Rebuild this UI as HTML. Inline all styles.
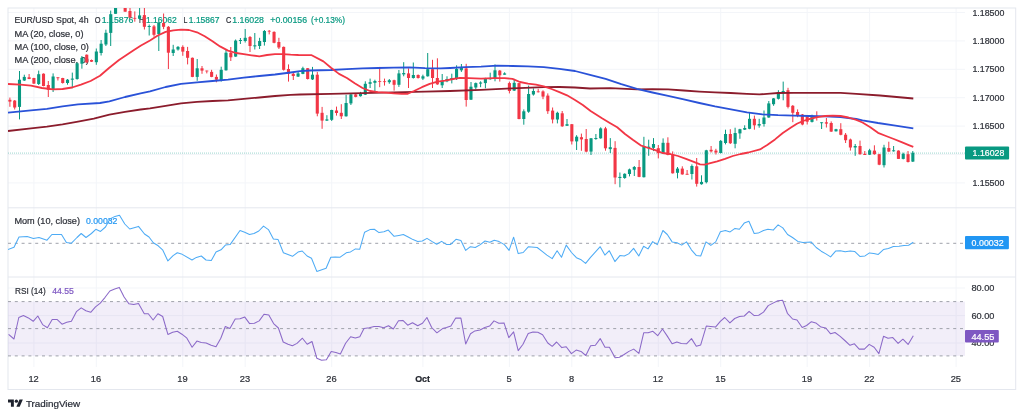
<!DOCTYPE html>
<html lang="en"><head><meta charset="utf-8"><title>EUR/USD Spot, 4h</title>
<style>html,body{margin:0;padding:0;background:#fff;}body{width:1024px;height:417px;overflow:hidden;}svg{display:block;filter:blur(0.3px);}</style>
</head><body>
<svg width="1024" height="417" viewBox="0 0 1024 417" font-family="'Liberation Sans', Arial, sans-serif">
<defs><clipPath id="cm"><rect x="8" y="8" width="957" height="200"/></clipPath><clipPath id="c2"><rect x="8" y="208" width="957" height="69"/></clipPath><clipPath id="c3"><rect x="8" y="277" width="957" height="90"/></clipPath></defs>
<rect x="0" y="0" width="1024" height="417" fill="#ffffff"/>
<g stroke="#f3f5f9" stroke-width="1" fill="none"><line x1="33.9" y1="8" x2="33.9" y2="367"/><line x1="96.3" y1="8" x2="96.3" y2="367"/><line x1="182.8" y1="8" x2="182.8" y2="367"/><line x1="245.2" y1="8" x2="245.2" y2="367"/><line x1="331.7" y1="8" x2="331.7" y2="367"/><line x1="422.9" y1="8" x2="422.9" y2="367"/><line x1="509.4" y1="8" x2="509.4" y2="367"/><line x1="571.8" y1="8" x2="571.8" y2="367"/><line x1="658.3" y1="8" x2="658.3" y2="367"/><line x1="720.7" y1="8" x2="720.7" y2="367"/><line x1="807.2" y1="8" x2="807.2" y2="367"/><line x1="869.6" y1="8" x2="869.6" y2="367"/><line x1="956.1" y1="8" x2="956.1" y2="367"/><line x1="8" y1="12.5" x2="965" y2="12.5"/><line x1="8" y1="40.9" x2="965" y2="40.9"/><line x1="8" y1="69.3" x2="965" y2="69.3"/><line x1="8" y1="97.7" x2="965" y2="97.7"/><line x1="8" y1="126.1" x2="965" y2="126.1"/><line x1="8" y1="154.5" x2="965" y2="154.5"/><line x1="8" y1="182.9" x2="965" y2="182.9"/><line x1="8" y1="288" x2="965" y2="288"/><line x1="8" y1="315.6" x2="965" y2="315.6"/><line x1="8" y1="343" x2="965" y2="343"/></g>
<g stroke="#e4e7ee" stroke-width="1" fill="none"><rect x="8" y="8" width="1007.7" height="381.5"/><line x1="8" y1="207.8" x2="1015.7" y2="207.8"/><line x1="8" y1="277" x2="1015.7" y2="277"/></g>
<rect x="8" y="301.6" width="957" height="54.3" fill="#7e57c2" fill-opacity="0.1"/>
<g stroke="#9fa2aa" stroke-width="1" stroke-dasharray="3 3.8" fill="none"><line x1="8" y1="301.6" x2="965" y2="301.6"/><line x1="8" y1="328.6" x2="965" y2="328.6"/><line x1="8" y1="355.9" x2="965" y2="355.9"/><line x1="8" y1="243.3" x2="965" y2="243.3"/></g>
<line x1="8" y1="153.1" x2="965" y2="153.1" stroke="#089981" stroke-opacity="0.4" stroke-width="1" stroke-dasharray="1 1"/>
<text x="14.5" y="23.3" font-size="9.5" fill="#2e3139" stroke="#2e3139" stroke-width="0.22" text-anchor="start" textLength="74.0" lengthAdjust="spacingAndGlyphs">EUR/USD Spot, 4h</text>
<text x="94.7" y="23.3" font-size="9.5" fill="#2e3139" stroke="#2e3139" stroke-width="0.22" text-anchor="start" textLength="5.8" lengthAdjust="spacingAndGlyphs">O</text>
<text x="101.7" y="23.3" font-size="9.5" fill="#089981" stroke="#089981" stroke-width="0.22" text-anchor="start" textLength="31.7" lengthAdjust="spacingAndGlyphs">1.15876</text>
<text x="139.0" y="23.3" font-size="9.5" fill="#2e3139" stroke="#2e3139" stroke-width="0.22" text-anchor="start" textLength="5.0" lengthAdjust="spacingAndGlyphs">H</text>
<text x="145.9" y="23.3" font-size="9.5" fill="#089981" stroke="#089981" stroke-width="0.22" text-anchor="start" textLength="31.0" lengthAdjust="spacingAndGlyphs">1.16062</text>
<text x="183.6" y="23.3" font-size="9.5" fill="#2e3139" stroke="#2e3139" stroke-width="0.22" text-anchor="start" textLength="3.9" lengthAdjust="spacingAndGlyphs">L</text>
<text x="188.8" y="23.3" font-size="9.5" fill="#089981" stroke="#089981" stroke-width="0.22" text-anchor="start" textLength="30.7" lengthAdjust="spacingAndGlyphs">1.15867</text>
<text x="226.0" y="23.3" font-size="9.5" fill="#2e3139" stroke="#2e3139" stroke-width="0.22" text-anchor="start" textLength="5.3" lengthAdjust="spacingAndGlyphs">C</text>
<text x="232.3" y="23.3" font-size="9.5" fill="#089981" stroke="#089981" stroke-width="0.22" text-anchor="start" textLength="31.7" lengthAdjust="spacingAndGlyphs">1.16028</text>
<text x="270.3" y="23.3" font-size="9.5" fill="#089981" stroke="#089981" stroke-width="0.22" text-anchor="start" textLength="36.8" lengthAdjust="spacingAndGlyphs">+0.00156</text>
<text x="311.0" y="23.3" font-size="9.5" fill="#089981" stroke="#089981" stroke-width="0.22" text-anchor="start" textLength="34.0" lengthAdjust="spacingAndGlyphs">(+0.13%)</text>
<text x="14.5" y="36.5" font-size="9.5" fill="#2e3139" stroke="#2e3139" stroke-width="0.22" text-anchor="start" textLength="69.0" lengthAdjust="spacingAndGlyphs">MA (20, close, 0)</text>
<text x="14.5" y="49.6" font-size="9.5" fill="#2e3139" stroke="#2e3139" stroke-width="0.22" text-anchor="start" textLength="74.4" lengthAdjust="spacingAndGlyphs">MA (100, close, 0)</text>
<text x="14.5" y="62.6" font-size="9.5" fill="#2e3139" stroke="#2e3139" stroke-width="0.22" text-anchor="start" textLength="74.4" lengthAdjust="spacingAndGlyphs">MA (200, close, 0)</text>
<text x="14.4" y="223.5" font-size="9.5" fill="#2e3139" stroke="#2e3139" stroke-width="0.22" text-anchor="start" textLength="65.6" lengthAdjust="spacingAndGlyphs">Mom (10, close)</text>
<text x="86.0" y="223.5" font-size="9.5" fill="#2196f3" stroke="#2196f3" stroke-width="0.22" text-anchor="start" textLength="31.4" lengthAdjust="spacingAndGlyphs">0.00032</text>
<text x="15.0" y="293.9" font-size="9.5" fill="#2e3139" stroke="#2e3139" stroke-width="0.22" text-anchor="start" textLength="30.7" lengthAdjust="spacingAndGlyphs">RSI (14)</text>
<text x="52.2" y="293.9" font-size="9.5" fill="#7e57c2" stroke="#7e57c2" stroke-width="0.22" text-anchor="start" textLength="21.7" lengthAdjust="spacingAndGlyphs">44.55</text>
<g clip-path="url(#cm)">
<g stroke="#089981" stroke-width="1" fill="#089981"><line x1="19.5" y1="71.0" x2="19.5" y2="119.4"/><line x1="24.3" y1="74.7" x2="24.3" y2="81.0"/><line x1="38.7" y1="70.6" x2="38.7" y2="85.0"/><line x1="53.1" y1="73.4" x2="53.1" y2="92.0"/><line x1="67.5" y1="79.0" x2="67.5" y2="84.7"/><line x1="72.3" y1="72.6" x2="72.3" y2="88.3"/><line x1="77.1" y1="62.5" x2="77.1" y2="79.7"/><line x1="81.9" y1="56.0" x2="81.9" y2="68.7"/><line x1="96.3" y1="48.5" x2="96.3" y2="64.8"/><line x1="101.1" y1="40.0" x2="101.1" y2="55.5"/><line x1="105.9" y1="29.7" x2="105.9" y2="46.0"/><line x1="110.7" y1="10.6" x2="110.7" y2="46.0"/><line x1="115.6" y1="4.0" x2="115.6" y2="13.8"/><line x1="139.6" y1="7.0" x2="139.6" y2="19.5"/><line x1="149.2" y1="24.5" x2="149.2" y2="35.5"/><line x1="158.8" y1="22.2" x2="158.8" y2="51.0"/><line x1="173.2" y1="44.8" x2="173.2" y2="56.0"/><line x1="178.0" y1="46.0" x2="178.0" y2="50.6"/><line x1="197.2" y1="59.0" x2="197.2" y2="80.8"/><line x1="221.2" y1="66.7" x2="221.2" y2="81.6"/><line x1="226.0" y1="49.5" x2="226.0" y2="70.6"/><line x1="235.6" y1="39.5" x2="235.6" y2="56.8"/><line x1="240.4" y1="38.0" x2="240.4" y2="44.0"/><line x1="245.2" y1="29.0" x2="245.2" y2="42.5"/><line x1="254.8" y1="33.0" x2="254.8" y2="49.5"/><line x1="259.6" y1="37.8" x2="259.6" y2="49.0"/><line x1="264.4" y1="30.0" x2="264.4" y2="45.6"/><line x1="298.1" y1="71.4" x2="298.1" y2="77.0"/><line x1="302.9" y1="66.7" x2="302.9" y2="74.2"/><line x1="312.5" y1="66.9" x2="312.5" y2="80.0"/><line x1="326.9" y1="115.2" x2="326.9" y2="121.0"/><line x1="331.7" y1="109.7" x2="331.7" y2="121.0"/><line x1="346.1" y1="94.8" x2="346.1" y2="116.6"/><line x1="350.9" y1="94.0" x2="350.9" y2="105.0"/><line x1="360.5" y1="91.9" x2="360.5" y2="96.6"/><line x1="365.3" y1="81.3" x2="365.3" y2="95.0"/><line x1="370.1" y1="78.6" x2="370.1" y2="88.0"/><line x1="374.9" y1="79.7" x2="374.9" y2="91.9"/><line x1="389.3" y1="79.0" x2="389.3" y2="83.8"/><line x1="398.9" y1="70.0" x2="398.9" y2="86.9"/><line x1="403.7" y1="62.2" x2="403.7" y2="76.3"/><line x1="413.3" y1="62.5" x2="413.3" y2="78.6"/><line x1="422.9" y1="74.7" x2="422.9" y2="80.0"/><line x1="427.7" y1="53.0" x2="427.7" y2="76.6"/><line x1="442.2" y1="74.0" x2="442.2" y2="88.0"/><line x1="447.0" y1="76.3" x2="447.0" y2="82.2"/><line x1="451.8" y1="73.7" x2="451.8" y2="83.4"/><line x1="456.6" y1="65.3" x2="456.6" y2="80.0"/><line x1="461.4" y1="64.0" x2="461.4" y2="71.9"/><line x1="471.0" y1="82.0" x2="471.0" y2="100.0"/><line x1="475.8" y1="82.5" x2="475.8" y2="89.4"/><line x1="480.6" y1="81.3" x2="480.6" y2="87.2"/><line x1="485.4" y1="77.8" x2="485.4" y2="88.3"/><line x1="490.2" y1="72.7" x2="490.2" y2="79.7"/><line x1="495.0" y1="64.4" x2="495.0" y2="81.3"/><line x1="504.6" y1="72.3" x2="504.6" y2="74.7"/><line x1="514.2" y1="78.9" x2="514.2" y2="91.0"/><line x1="523.8" y1="109.4" x2="523.8" y2="124.7"/><line x1="528.6" y1="85.6" x2="528.6" y2="112.8"/><line x1="533.4" y1="88.3" x2="533.4" y2="95.6"/><line x1="557.4" y1="111.7" x2="557.4" y2="123.4"/><line x1="567.0" y1="119.0" x2="567.0" y2="125.8"/><line x1="576.6" y1="135.2" x2="576.6" y2="150.0"/><line x1="591.0" y1="138.0" x2="591.0" y2="155.0"/><line x1="595.9" y1="134.0" x2="595.9" y2="139.8"/><line x1="600.7" y1="127.3" x2="600.7" y2="138.8"/><line x1="610.3" y1="138.1" x2="610.3" y2="153.0"/><line x1="619.9" y1="172.5" x2="619.9" y2="187.3"/><line x1="624.7" y1="173.3" x2="624.7" y2="178.8"/><line x1="629.5" y1="168.6" x2="629.5" y2="176.4"/><line x1="634.3" y1="166.0" x2="634.3" y2="176.0"/><line x1="643.9" y1="136.8" x2="643.9" y2="177.5"/><line x1="648.7" y1="139.7" x2="648.7" y2="155.8"/><line x1="653.5" y1="138.1" x2="653.5" y2="151.1"/><line x1="663.1" y1="138.4" x2="663.1" y2="154.0"/><line x1="677.5" y1="167.0" x2="677.5" y2="178.4"/><line x1="691.9" y1="164.4" x2="691.9" y2="179.5"/><line x1="701.5" y1="175.3" x2="701.5" y2="184.7"/><line x1="706.3" y1="149.8" x2="706.3" y2="183.4"/><line x1="720.7" y1="140.0" x2="720.7" y2="153.4"/><line x1="725.5" y1="129.7" x2="725.5" y2="144.4"/><line x1="735.1" y1="127.7" x2="735.1" y2="148.3"/><line x1="739.9" y1="128.8" x2="739.9" y2="138.8"/><line x1="744.7" y1="125.3" x2="744.7" y2="130.0"/><line x1="749.5" y1="112.0" x2="749.5" y2="129.2"/><line x1="759.2" y1="118.8" x2="759.2" y2="127.7"/><line x1="764.0" y1="110.5" x2="764.0" y2="126.6"/><line x1="768.8" y1="101.0" x2="768.8" y2="117.8"/><line x1="773.6" y1="98.0" x2="773.6" y2="105.8"/><line x1="778.4" y1="90.2" x2="778.4" y2="99.5"/><line x1="783.2" y1="81.6" x2="783.2" y2="100.3"/><line x1="812.0" y1="114.7" x2="812.0" y2="122.5"/><line x1="821.6" y1="122.3" x2="821.6" y2="129.0"/><line x1="836.0" y1="128.8" x2="836.0" y2="131.5"/><line x1="855.2" y1="144.0" x2="855.2" y2="155.8"/><line x1="869.6" y1="148.8" x2="869.6" y2="155.0"/><line x1="884.0" y1="144.8" x2="884.0" y2="167.5"/><line x1="893.6" y1="146.0" x2="893.6" y2="151.6"/><line x1="903.2" y1="152.7" x2="903.2" y2="159.4"/><line x1="912.8" y1="151.0" x2="912.8" y2="162.0"/><g stroke="none"><rect x="17.94" y="79.7" width="3.1" height="27.2"/><rect x="22.74" y="76.9" width="3.1" height="3.6"/><rect x="37.15" y="74.2" width="3.1" height="9.8"/><rect x="51.56" y="76.5" width="3.1" height="13.3"/><rect x="65.97" y="79.7" width="3.1" height="3.3"/><rect x="70.77" y="78.6" width="3.1" height="1.1"/><rect x="75.58" y="63.3" width="3.1" height="15.7"/><rect x="80.38" y="57.8" width="3.1" height="5.9"/><rect x="94.79" y="51.5" width="3.1" height="10.7"/><rect x="99.59" y="43.7" width="3.1" height="9.3"/><rect x="104.39" y="32.8" width="3.1" height="11.7"/><rect x="109.20" y="14.2" width="3.1" height="18.7"/><rect x="114.00" y="6.0" width="3.1" height="7.8"/><rect x="138.02" y="15.4" width="3.1" height="3.4"/><rect x="147.62" y="26.0" width="3.1" height="1.0"/><rect x="157.23" y="22.5" width="3.1" height="11.5"/><rect x="171.64" y="49.5" width="3.1" height="3.5"/><rect x="176.44" y="46.9" width="3.1" height="2.6"/><rect x="195.65" y="68.3" width="3.1" height="8.6"/><rect x="219.67" y="69.8" width="3.1" height="11.0"/><rect x="224.47" y="52.7" width="3.1" height="17.6"/><rect x="234.08" y="40.6" width="3.1" height="16.0"/><rect x="238.88" y="40.0" width="3.1" height="1.0"/><rect x="243.68" y="37.8" width="3.1" height="3.2"/><rect x="253.29" y="45.3" width="3.1" height="1.1"/><rect x="258.09" y="41.0" width="3.1" height="5.0"/><rect x="262.89" y="31.0" width="3.1" height="11.0"/><rect x="296.51" y="73.4" width="3.1" height="3.2"/><rect x="301.32" y="68.2" width="3.1" height="5.7"/><rect x="310.92" y="74.7" width="3.1" height="4.7"/><rect x="325.33" y="119.4" width="3.1" height="1.2"/><rect x="330.14" y="110.0" width="3.1" height="9.8"/><rect x="344.54" y="103.0" width="3.1" height="13.3"/><rect x="349.35" y="94.4" width="3.1" height="9.0"/><rect x="358.95" y="93.8" width="3.1" height="2.4"/><rect x="363.76" y="83.8" width="3.1" height="10.9"/><rect x="368.56" y="82.2" width="3.1" height="1.6"/><rect x="373.36" y="81.0" width="3.1" height="1.8"/><rect x="387.77" y="80.2" width="3.1" height="2.0"/><rect x="397.38" y="73.4" width="3.1" height="11.4"/><rect x="402.18" y="73.0" width="3.1" height="1.4"/><rect x="411.79" y="75.0" width="3.1" height="3.0"/><rect x="421.39" y="76.3" width="3.1" height="2.3"/><rect x="426.20" y="69.2" width="3.1" height="7.1"/><rect x="440.60" y="81.0" width="3.1" height="4.3"/><rect x="445.41" y="79.0" width="3.1" height="2.3"/><rect x="450.21" y="78.0" width="3.1" height="1.7"/><rect x="455.01" y="69.0" width="3.1" height="9.8"/><rect x="459.82" y="68.0" width="3.1" height="2.3"/><rect x="469.42" y="86.7" width="3.1" height="13.0"/><rect x="474.23" y="83.1" width="3.1" height="4.4"/><rect x="479.03" y="82.5" width="3.1" height="1.1"/><rect x="483.83" y="78.9" width="3.1" height="4.2"/><rect x="488.63" y="78.1" width="3.1" height="1.1"/><rect x="493.44" y="70.3" width="3.1" height="8.6"/><rect x="503.04" y="73.4" width="3.1" height="1.3"/><rect x="512.65" y="82.8" width="3.1" height="7.8"/><rect x="522.26" y="111.3" width="3.1" height="7.7"/><rect x="527.06" y="94.0" width="3.1" height="17.7"/><rect x="531.86" y="91.0" width="3.1" height="3.5"/><rect x="555.88" y="112.8" width="3.1" height="6.7"/><rect x="565.48" y="124.2" width="3.1" height="1.6"/><rect x="575.09" y="136.7" width="3.1" height="4.7"/><rect x="589.50" y="138.3" width="3.1" height="13.3"/><rect x="594.30" y="138.0" width="3.1" height="1.0"/><rect x="599.10" y="128.4" width="3.1" height="9.9"/><rect x="608.71" y="147.2" width="3.1" height="1.9"/><rect x="618.32" y="176.9" width="3.1" height="1.1"/><rect x="623.12" y="173.8" width="3.1" height="4.2"/><rect x="627.92" y="169.4" width="3.1" height="4.6"/><rect x="632.73" y="167.0" width="3.1" height="2.7"/><rect x="642.33" y="146.2" width="3.1" height="31.0"/><rect x="647.13" y="146.7" width="3.1" height="1.5"/><rect x="651.94" y="144.0" width="3.1" height="3.8"/><rect x="661.54" y="142.8" width="3.1" height="11.0"/><rect x="675.95" y="168.6" width="3.1" height="4.2"/><rect x="690.36" y="166.0" width="3.1" height="8.0"/><rect x="699.97" y="181.9" width="3.1" height="2.3"/><rect x="704.77" y="150.3" width="3.1" height="31.9"/><rect x="719.18" y="140.9" width="3.1" height="12.1"/><rect x="723.98" y="134.0" width="3.1" height="9.0"/><rect x="733.59" y="133.0" width="3.1" height="10.8"/><rect x="738.39" y="129.2" width="3.1" height="4.2"/><rect x="743.19" y="128.0" width="3.1" height="1.7"/><rect x="748.00" y="118.8" width="3.1" height="10.0"/><rect x="757.60" y="124.0" width="3.1" height="1.6"/><rect x="762.41" y="117.5" width="3.1" height="6.5"/><rect x="767.21" y="103.4" width="3.1" height="14.1"/><rect x="772.01" y="98.4" width="3.1" height="5.8"/><rect x="776.82" y="92.2" width="3.1" height="6.6"/><rect x="781.62" y="91.0" width="3.1" height="1.5"/><rect x="810.44" y="115.8" width="3.1" height="6.1"/><rect x="820.04" y="122.3" width="3.1" height="0.9"/><rect x="834.45" y="129.2" width="3.1" height="2.1"/><rect x="853.66" y="146.0" width="3.1" height="1.5"/><rect x="868.07" y="150.3" width="3.1" height="4.4"/><rect x="882.48" y="147.5" width="3.1" height="17.7"/><rect x="892.09" y="150.3" width="3.1" height="1.0"/><rect x="901.69" y="153.8" width="3.1" height="5.1"/><rect x="911.30" y="152.7" width="3.1" height="8.9"/></g></g>
<g stroke="#f23645" stroke-width="1" fill="#f23645"><line x1="9.9" y1="97.6" x2="9.9" y2="106.8"/><line x1="14.7" y1="100.0" x2="14.7" y2="109.5"/><line x1="29.1" y1="74.0" x2="29.1" y2="79.2"/><line x1="33.9" y1="77.8" x2="33.9" y2="84.0"/><line x1="43.5" y1="73.4" x2="43.5" y2="86.3"/><line x1="48.3" y1="81.0" x2="48.3" y2="97.0"/><line x1="57.9" y1="77.3" x2="57.9" y2="80.5"/><line x1="62.7" y1="77.8" x2="62.7" y2="83.6"/><line x1="86.7" y1="54.5" x2="86.7" y2="62.8"/><line x1="91.5" y1="59.5" x2="91.5" y2="62.0"/><line x1="125.2" y1="3.0" x2="125.2" y2="11.7"/><line x1="130.0" y1="7.0" x2="130.0" y2="18.5"/><line x1="134.8" y1="11.4" x2="134.8" y2="21.7"/><line x1="144.4" y1="7.0" x2="144.4" y2="29.5"/><line x1="154.0" y1="25.0" x2="154.0" y2="36.7"/><line x1="163.6" y1="13.5" x2="163.6" y2="29.2"/><line x1="168.4" y1="26.0" x2="168.4" y2="69.0"/><line x1="182.8" y1="45.3" x2="182.8" y2="55.8"/><line x1="187.6" y1="46.9" x2="187.6" y2="64.4"/><line x1="192.4" y1="57.5" x2="192.4" y2="77.2"/><line x1="202.0" y1="66.0" x2="202.0" y2="73.8"/><line x1="206.8" y1="70.6" x2="206.8" y2="73.4"/><line x1="211.6" y1="69.8" x2="211.6" y2="77.2"/><line x1="216.4" y1="74.5" x2="216.4" y2="82.3"/><line x1="230.8" y1="47.0" x2="230.8" y2="61.0"/><line x1="250.0" y1="36.0" x2="250.0" y2="52.0"/><line x1="269.2" y1="30.0" x2="269.2" y2="34.4"/><line x1="274.1" y1="31.3" x2="274.1" y2="43.3"/><line x1="278.9" y1="37.8" x2="278.9" y2="49.0"/><line x1="283.7" y1="46.5" x2="283.7" y2="70.6"/><line x1="288.5" y1="64.4" x2="288.5" y2="81.6"/><line x1="293.3" y1="73.0" x2="293.3" y2="80.0"/><line x1="307.7" y1="68.0" x2="307.7" y2="79.5"/><line x1="317.3" y1="71.9" x2="317.3" y2="116.3"/><line x1="322.1" y1="106.9" x2="322.1" y2="128.8"/><line x1="336.5" y1="106.6" x2="336.5" y2="115.6"/><line x1="341.3" y1="104.2" x2="341.3" y2="119.0"/><line x1="355.7" y1="94.0" x2="355.7" y2="97.3"/><line x1="379.7" y1="66.9" x2="379.7" y2="87.2"/><line x1="384.5" y1="78.6" x2="384.5" y2="85.6"/><line x1="394.1" y1="79.7" x2="394.1" y2="90.6"/><line x1="408.5" y1="68.4" x2="408.5" y2="88.0"/><line x1="418.1" y1="74.4" x2="418.1" y2="78.6"/><line x1="432.5" y1="59.8" x2="432.5" y2="88.0"/><line x1="437.4" y1="58.3" x2="437.4" y2="84.8"/><line x1="466.2" y1="63.8" x2="466.2" y2="106.6"/><line x1="499.8" y1="70.0" x2="499.8" y2="81.6"/><line x1="509.4" y1="81.6" x2="509.4" y2="93.4"/><line x1="519.0" y1="82.8" x2="519.0" y2="119.3"/><line x1="538.2" y1="88.8" x2="538.2" y2="92.5"/><line x1="543.0" y1="90.3" x2="543.0" y2="99.2"/><line x1="547.8" y1="93.4" x2="547.8" y2="113.9"/><line x1="552.6" y1="107.5" x2="552.6" y2="123.4"/><line x1="562.2" y1="111.0" x2="562.2" y2="126.9"/><line x1="571.8" y1="124.0" x2="571.8" y2="144.5"/><line x1="581.4" y1="133.6" x2="581.4" y2="150.8"/><line x1="586.2" y1="129.0" x2="586.2" y2="152.3"/><line x1="605.5" y1="126.9" x2="605.5" y2="150.7"/><line x1="615.1" y1="141.2" x2="615.1" y2="184.2"/><line x1="639.1" y1="160.0" x2="639.1" y2="177.2"/><line x1="658.3" y1="145.0" x2="658.3" y2="158.4"/><line x1="667.9" y1="137.3" x2="667.9" y2="155.3"/><line x1="672.7" y1="151.4" x2="672.7" y2="173.6"/><line x1="682.3" y1="166.3" x2="682.3" y2="174.7"/><line x1="687.1" y1="170.0" x2="687.1" y2="174.7"/><line x1="696.7" y1="158.0" x2="696.7" y2="186.6"/><line x1="711.1" y1="146.0" x2="711.1" y2="152.5"/><line x1="715.9" y1="148.8" x2="715.9" y2="154.5"/><line x1="730.3" y1="129.2" x2="730.3" y2="144.0"/><line x1="754.4" y1="115.6" x2="754.4" y2="129.7"/><line x1="788.0" y1="87.8" x2="788.0" y2="108.4"/><line x1="792.8" y1="105.0" x2="792.8" y2="122.2"/><line x1="797.6" y1="109.4" x2="797.6" y2="117.2"/><line x1="802.4" y1="114.0" x2="802.4" y2="125.3"/><line x1="807.2" y1="115.6" x2="807.2" y2="124.5"/><line x1="816.8" y1="111.3" x2="816.8" y2="120.6"/><line x1="826.4" y1="118.0" x2="826.4" y2="127.5"/><line x1="831.2" y1="121.4" x2="831.2" y2="131.9"/><line x1="840.8" y1="123.2" x2="840.8" y2="135.3"/><line x1="845.6" y1="133.0" x2="845.6" y2="143.0"/><line x1="850.4" y1="138.6" x2="850.4" y2="150.6"/><line x1="860.0" y1="140.6" x2="860.0" y2="154.7"/><line x1="864.8" y1="151.0" x2="864.8" y2="155.0"/><line x1="874.4" y1="145.3" x2="874.4" y2="154.7"/><line x1="879.2" y1="153.8" x2="879.2" y2="165.2"/><line x1="888.8" y1="141.7" x2="888.8" y2="151.8"/><line x1="898.4" y1="150.3" x2="898.4" y2="159.0"/><line x1="908.0" y1="151.0" x2="908.0" y2="162.5"/><g stroke="none"><rect x="8.33" y="99.8" width="3.1" height="1.8"/><rect x="13.14" y="100.6" width="3.1" height="6.9"/><rect x="27.55" y="77.3" width="3.1" height="1.7"/><rect x="32.35" y="78.0" width="3.1" height="5.6"/><rect x="41.96" y="73.7" width="3.1" height="12.3"/><rect x="46.76" y="85.0" width="3.1" height="4.8"/><rect x="56.37" y="77.3" width="3.1" height="0.9"/><rect x="61.17" y="78.0" width="3.1" height="5.0"/><rect x="85.18" y="54.7" width="3.1" height="7.8"/><rect x="89.99" y="60.0" width="3.1" height="1.7"/><rect x="123.61" y="5.0" width="3.1" height="6.7"/><rect x="128.41" y="11.0" width="3.1" height="6.5"/><rect x="133.21" y="17.9" width="3.1" height="0.8"/><rect x="142.82" y="15.1" width="3.1" height="11.7"/><rect x="152.42" y="26.4" width="3.1" height="8.4"/><rect x="162.03" y="23.0" width="3.1" height="3.8"/><rect x="166.83" y="26.8" width="3.1" height="25.9"/><rect x="181.24" y="46.9" width="3.1" height="4.7"/><rect x="186.05" y="51.0" width="3.1" height="6.8"/><rect x="190.85" y="57.8" width="3.1" height="19.1"/><rect x="200.45" y="68.3" width="3.1" height="2.3"/><rect x="205.26" y="70.6" width="3.1" height="0.8"/><rect x="210.06" y="71.9" width="3.1" height="5.0"/><rect x="214.86" y="76.9" width="3.1" height="2.8"/><rect x="229.27" y="52.7" width="3.1" height="4.6"/><rect x="248.48" y="37.0" width="3.1" height="9.0"/><rect x="267.70" y="30.8" width="3.1" height="0.8"/><rect x="272.50" y="31.9" width="3.1" height="10.9"/><rect x="277.30" y="42.0" width="3.1" height="5.5"/><rect x="282.11" y="46.9" width="3.1" height="22.9"/><rect x="286.91" y="69.0" width="3.1" height="4.8"/><rect x="291.71" y="73.8" width="3.1" height="2.2"/><rect x="306.12" y="68.2" width="3.1" height="10.8"/><rect x="315.73" y="74.7" width="3.1" height="38.9"/><rect x="320.53" y="112.8" width="3.1" height="7.8"/><rect x="334.94" y="110.5" width="3.1" height="2.5"/><rect x="339.74" y="112.8" width="3.1" height="3.5"/><rect x="354.15" y="94.4" width="3.1" height="2.5"/><rect x="378.17" y="81.0" width="3.1" height="0.8"/><rect x="382.97" y="81.3" width="3.1" height="0.8"/><rect x="392.57" y="80.2" width="3.1" height="4.6"/><rect x="406.98" y="73.4" width="3.1" height="4.6"/><rect x="416.59" y="75.0" width="3.1" height="3.0"/><rect x="431.00" y="69.2" width="3.1" height="8.8"/><rect x="435.80" y="78.0" width="3.1" height="6.4"/><rect x="464.62" y="68.4" width="3.1" height="31.6"/><rect x="498.24" y="70.6" width="3.1" height="4.7"/><rect x="507.85" y="83.1" width="3.1" height="7.9"/><rect x="517.45" y="83.1" width="3.1" height="35.9"/><rect x="536.67" y="91.4" width="3.1" height="0.8"/><rect x="541.47" y="91.4" width="3.1" height="5.2"/><rect x="546.27" y="95.6" width="3.1" height="15.6"/><rect x="551.07" y="110.6" width="3.1" height="8.9"/><rect x="560.68" y="113.3" width="3.1" height="13.0"/><rect x="570.29" y="124.2" width="3.1" height="17.2"/><rect x="579.89" y="137.2" width="3.1" height="2.2"/><rect x="584.70" y="139.0" width="3.1" height="12.6"/><rect x="603.91" y="128.4" width="3.1" height="19.9"/><rect x="613.51" y="147.9" width="3.1" height="29.6"/><rect x="637.53" y="167.0" width="3.1" height="9.9"/><rect x="656.74" y="148.2" width="3.1" height="5.0"/><rect x="666.35" y="142.8" width="3.1" height="12.2"/><rect x="671.15" y="154.5" width="3.1" height="18.8"/><rect x="680.75" y="168.6" width="3.1" height="5.8"/><rect x="685.56" y="173.8" width="3.1" height="0.9"/><rect x="695.16" y="166.3" width="3.1" height="17.5"/><rect x="709.57" y="149.8" width="3.1" height="1.6"/><rect x="714.38" y="150.6" width="3.1" height="1.9"/><rect x="728.78" y="134.0" width="3.1" height="9.2"/><rect x="752.80" y="118.8" width="3.1" height="6.5"/><rect x="786.42" y="90.2" width="3.1" height="16.7"/><rect x="791.22" y="105.8" width="3.1" height="7.0"/><rect x="796.03" y="112.0" width="3.1" height="3.2"/><rect x="800.83" y="114.5" width="3.1" height="10.0"/><rect x="805.63" y="116.5" width="3.1" height="5.2"/><rect x="815.24" y="116.3" width="3.1" height="1.4"/><rect x="824.85" y="122.3" width="3.1" height="1.3"/><rect x="829.65" y="123.0" width="3.1" height="8.6"/><rect x="839.25" y="129.2" width="3.1" height="5.6"/><rect x="844.06" y="134.7" width="3.1" height="5.5"/><rect x="848.86" y="139.5" width="3.1" height="8.0"/><rect x="858.47" y="146.0" width="3.1" height="8.2"/><rect x="863.27" y="153.8" width="3.1" height="1.2"/><rect x="872.88" y="150.6" width="3.1" height="3.6"/><rect x="877.68" y="154.2" width="3.1" height="10.5"/><rect x="887.28" y="148.0" width="3.1" height="3.6"/><rect x="896.89" y="150.6" width="3.1" height="8.3"/><rect x="906.50" y="154.2" width="3.1" height="7.8"/></g></g>
<polyline points="8.0,131.0 31.0,128.3 46.9,126.7 62.5,124.4 78.0,121.7 93.8,118.6 109.4,114.7 125.0,111.9 140.6,109.5 150.0,108.3 165.6,105.8 181.0,103.4 197.0,101.9 212.5,101.0 228.0,100.3 243.8,98.8 259.4,97.5 275.0,96.0 290.6,94.8 300.0,94.5 331.0,93.8 362.5,93.1 393.8,92.3 425.0,91.6 450.0,91.0 481.0,89.8 512.5,88.3 543.8,87.2 559.4,87.0 575.0,87.5 590.0,88.5 610.3,88.1 636.9,89.3 652.5,89.1 668.1,89.4 683.8,90.5 699.4,91.6 715.0,92.4 730.6,93.0 746.9,93.8 759.4,94.4 770.0,93.6 778.0,93.0 793.8,92.8 825.0,92.8 840.6,92.8 856.3,93.8 880.0,95.5 913.3,98.5" fill="none" stroke="#8b1c2c" stroke-width="1.8" stroke-linejoin="round"/>
<polyline points="8.0,112.7 31.0,110.3 46.9,108.8 62.5,106.4 78.0,104.4 100.0,103.0 109.4,101.3 125.0,97.0 140.6,93.3 150.0,91.3 165.6,87.0 181.0,83.9 197.0,82.3 212.5,81.0 228.0,79.7 243.8,77.7 259.4,76.0 275.0,74.5 290.6,72.5 300.0,71.2 310.0,70.5 331.0,70.0 346.9,69.2 362.5,68.4 378.0,68.0 393.8,67.7 409.4,67.3 425.0,68.1 440.6,68.4 450.0,68.0 465.6,67.2 481.0,66.7 497.0,65.6 512.5,66.0 528.0,66.4 543.8,67.2 559.4,68.8 575.0,71.0 590.0,74.8 605.6,78.8 621.3,84.2 636.9,88.9 652.5,92.5 668.1,95.9 683.8,99.4 699.4,103.0 715.0,106.3 731.0,109.3 746.9,112.4 762.5,114.4 778.0,115.2 793.8,115.6 809.4,116.0 825.0,116.4 840.6,117.2 856.3,119.0 862.5,120.3 878.0,123.0 893.8,125.3 913.3,128.4" fill="none" stroke="#2a52d8" stroke-width="1.8" stroke-linejoin="round"/>
<polyline points="8.0,84.0 20.3,84.7 31.0,85.6 42.0,88.0 53.0,89.4 62.5,89.0 72.0,87.5 81.0,84.7 90.6,81.0 100.0,75.8 109.0,68.0 119.0,60.0 128.0,54.0 134.0,50.0 141.0,45.5 150.0,40.5 157.8,35.5 165.6,31.9 173.4,30.3 181.0,29.7 189.0,30.0 197.0,32.3 204.7,36.3 212.5,41.3 220.0,46.4 228.0,50.6 236.0,53.0 243.8,54.2 251.6,55.3 259.4,56.3 267.0,55.0 275.0,54.2 282.8,54.2 290.6,54.7 298.4,55.0 311.7,55.2 323.4,61.4 331.0,67.7 339.0,73.9 346.9,78.0 354.7,83.3 362.5,88.0 370.0,91.0 378.0,92.2 386.0,92.7 393.8,93.4 401.6,93.8 407.8,93.8 414.0,91.0 421.9,87.2 429.7,83.8 437.5,81.7 445.0,80.6 453.0,79.0 460.0,77.8 468.8,78.1 481.0,78.6 493.8,78.1 504.7,78.1 512.5,78.9 520.0,82.0 528.0,83.6 536.0,84.7 543.8,86.3 551.6,89.0 559.4,92.2 567.0,95.3 575.0,100.0 582.8,105.0 590.6,111.0 601.6,118.0 609.4,122.7 617.2,127.3 625.0,134.0 632.8,139.8 640.6,145.3 648.4,148.0 656.0,150.3 662.5,153.0 670.3,154.0 678.0,156.0 686.0,158.8 693.8,161.9 700.0,164.4 704.7,164.7 709.4,163.4 717.2,161.3 725.0,158.8 732.8,156.0 740.6,154.0 748.4,152.5 760.0,149.4 767.2,145.0 775.0,139.4 782.8,133.0 790.6,127.7 796.9,123.8 803.0,121.0 809.4,119.0 817.2,117.2 825.0,116.0 832.8,115.6 840.6,116.0 848.4,117.5 856.3,119.8 862.5,122.5 870.3,127.2 878.0,132.8 886.0,136.0 893.8,139.0 901.6,142.2 909.4,145.3 913.3,146.8" fill="none" stroke="#f23645" stroke-width="1.8" stroke-linejoin="round"/>
</g>
<polyline clip-path="url(#c2)" points="7.9,249.5 14.0,247.2 19.0,237.0 27.2,236.6 33.4,238.4 39.0,237.5 47.0,240.2 51.9,234.5 61.5,234.4 66.4,242.4 71.2,243.3 77.0,237.5 81.2,233.5 86.0,237.5 91.4,233.5 95.8,229.3 100.5,231.4 105.5,227.0 109.9,219.0 115.0,216.4 119.5,215.2 124.8,224.0 129.7,229.0 138.5,226.4 144.5,234.0 149.0,237.0 153.3,242.8 158.2,245.8 162.6,249.8 167.9,260.9 173.1,255.6 177.3,252.8 181.4,253.9 192.0,260.0 196.4,257.4 201.3,256.0 206.0,260.0 211.3,260.4 216.0,252.1 221.0,249.8 225.4,245.1 230.1,244.6 240.0,230.5 244.7,232.2 249.5,234.4 254.0,233.5 258.8,231.0 263.5,226.1 268.4,229.6 273.4,238.9 278.1,239.6 283.4,252.8 292.5,256.3 298.0,252.1 302.2,251.0 307.1,256.0 311.5,258.3 316.8,271.4 326.1,268.3 330.8,257.2 335.2,256.9 340.2,257.2 346.2,252.8 350.5,251.9 355.5,248.9 359.7,249.3 364.6,232.2 369.9,229.6 374.3,229.3 379.0,232.6 383.9,231.7 388.3,230.1 394.1,236.3 398.9,235.4 403.3,234.5 408.2,237.0 413.0,239.6 417.7,241.4 422.3,241.0 427.0,238.4 431.8,241.4 436.7,244.2 441.6,241.4 446.3,244.4 450.7,244.4 456.0,239.3 460.9,240.5 465.7,250.4 470.4,246.7 475.3,247.5 480.3,244.6 485.0,241.0 489.8,242.3 494.3,240.2 499.1,241.6 504.4,244.6 509.1,250.4 513.6,237.2 518.2,253.6 523.2,252.5 528.5,246.7 537.2,247.5 542.5,251.6 546.9,255.1 552.2,258.6 557.1,250.7 561.5,257.2 566.2,245.1 571.5,252.5 576.4,257.7 581.2,259.8 585.6,263.4 590.5,257.4 600.2,246.7 604.9,255.1 609.3,250.7 614.9,261.6 619.9,255.6 624.3,256.0 628.7,253.9 633.6,248.4 638.8,256.0 643.6,246.3 648.0,248.9 652.7,241.6 657.3,244.6 662.9,230.5 667.3,234.5 672.1,241.9 677.0,242.8 681.7,245.1 686.5,241.9 691.4,249.8 696.2,255.4 700.7,256.0 706.0,241.9 710.8,245.4 715.7,241.9 720.4,231.7 725.4,230.5 730.1,231.9 735.0,228.4 739.4,229.3 744.2,223.1 748.9,221.2 754.2,233.5 758.2,233.1 763.5,230.5 767.9,229.3 773.2,230.1 778.1,224.9 782.8,227.9 787.6,234.5 792.5,237.5 797.8,241.4 803.0,242.4 811.0,241.9 816.2,247.5 821.2,251.2 825.9,253.9 830.6,256.9 835.6,251.1 840.3,250.7 845.2,251.8 850.2,250.9 854.6,251.4 859.9,256.4 865.0,255.9 869.5,252.9 873.8,253.4 878.3,254.4 883.4,249.6 888.4,248.6 893.4,246.6 899.0,246.3 904.0,245.6 908.6,245.3 913.3,242.3" fill="none" stroke="#4dabf5" stroke-width="1.05" stroke-linejoin="round"/>
<polyline clip-path="url(#c3)" points="8.6,334.4 14.0,339.0 18.8,317.5 23.4,315.6 28.4,317.9 33.2,321.3 37.8,316.0 42.6,324.6 47.4,327.7 52.2,319.4 57.0,319.4 62.0,324.2 66.8,322.3 71.4,321.3 76.4,311.7 81.2,307.9 85.9,310.8 90.7,312.3 95.5,306.9 100.3,303.1 105.1,297.3 109.9,291.0 114.7,289.1 119.3,287.4 124.1,297.0 128.9,303.7 133.7,304.6 138.5,303.5 144.3,313.7 148.3,313.7 153.1,320.0 157.9,313.7 162.7,316.5 167.9,334.4 172.7,332.3 177.3,331.3 181.9,334.2 186.9,338.2 192.1,347.2 196.9,341.1 201.3,342.4 206.1,343.0 211.2,345.3 216.0,346.7 220.8,338.2 225.3,326.5 229.9,328.4 235.2,319.0 240.0,318.8 244.8,317.1 249.6,323.6 254.4,323.2 259.2,320.9 264.0,314.2 268.8,315.0 273.6,323.6 278.4,328.0 283.2,342.0 288.0,344.3 292.4,345.7 297.0,343.4 302.4,338.2 307.2,344.3 312.0,341.5 316.8,358.2 321.6,360.3 326.4,359.7 331.2,351.6 335.9,352.6 340.4,353.9 345.6,343.2 350.6,336.7 355.3,338.0 359.8,336.7 364.0,328.6 369.2,327.7 374.1,326.5 378.9,326.5 383.7,327.7 388.5,325.7 393.3,329.0 398.5,320.8 402.9,320.4 407.7,325.2 412.5,322.7 417.7,325.7 422.5,323.2 426.9,317.5 431.7,327.5 436.9,332.8 442.6,328.6 446.5,327.5 450.9,326.1 455.7,318.1 460.9,318.1 465.7,344.0 470.5,333.8 474.9,330.9 480.0,330.0 484.8,327.5 489.6,326.1 494.0,320.9 498.8,323.2 504.0,322.9 508.8,337.6 513.6,331.9 518.2,350.6 523.0,344.3 528.2,333.4 533.0,331.9 537.8,332.3 542.6,334.8 547.8,343.0 552.2,346.3 556.6,342.0 561.8,347.6 566.2,346.8 571.4,353.6 576.2,350.1 581.0,351.4 585.8,355.5 590.6,345.7 595.4,345.3 600.2,338.6 605.0,347.2 609.4,347.2 615.1,357.8 619.4,357.2 624.1,354.5 628.9,351.4 633.7,349.1 638.9,353.4 643.7,332.8 648.1,332.8 652.9,331.3 657.7,335.7 662.5,329.0 667.3,336.1 672.1,343.8 676.9,341.9 681.3,343.4 686.5,343.8 691.5,338.6 696.3,346.3 700.7,344.9 706.3,326.1 710.7,326.5 715.5,327.1 720.3,321.3 724.7,317.5 729.9,322.9 734.7,318.5 739.5,316.5 744.3,316.0 749.1,311.4 754.2,315.6 758.7,315.2 763.5,312.1 768.2,305.6 773.0,303.1 777.8,300.8 782.6,300.2 787.4,313.3 792.6,319.0 797.0,320.0 802.2,327.5 806.6,325.5 811.4,321.7 815.8,322.9 821.0,327.1 825.8,328.0 830.6,333.8 835.0,332.5 840.2,336.3 844.8,340.5 850.0,345.3 854.4,343.8 859.2,349.1 864.4,349.1 869.2,344.4 874.1,347.2 878.9,353.6 883.5,336.3 888.0,338.2 892.8,337.6 898.1,343.4 902.9,339.2 908.1,344.4 913.3,335.7" fill="none" stroke="#8b69c8" stroke-width="1.05" stroke-linejoin="round"/>
<text x="972.4" y="15.5" font-size="9.5" fill="#2e3139" stroke="#2e3139" stroke-width="0.22" text-anchor="start" textLength="32.0" lengthAdjust="spacingAndGlyphs">1.18500</text>
<text x="972.4" y="43.9" font-size="9.5" fill="#2e3139" stroke="#2e3139" stroke-width="0.22" text-anchor="start" textLength="32.0" lengthAdjust="spacingAndGlyphs">1.18000</text>
<text x="972.4" y="72.3" font-size="9.5" fill="#2e3139" stroke="#2e3139" stroke-width="0.22" text-anchor="start" textLength="32.0" lengthAdjust="spacingAndGlyphs">1.17500</text>
<text x="972.4" y="100.7" font-size="9.5" fill="#2e3139" stroke="#2e3139" stroke-width="0.22" text-anchor="start" textLength="32.0" lengthAdjust="spacingAndGlyphs">1.17000</text>
<text x="972.4" y="129.1" font-size="9.5" fill="#2e3139" stroke="#2e3139" stroke-width="0.22" text-anchor="start" textLength="32.0" lengthAdjust="spacingAndGlyphs">1.16500</text>
<text x="972.4" y="185.9" font-size="9.5" fill="#2e3139" stroke="#2e3139" stroke-width="0.22" text-anchor="start" textLength="32.0" lengthAdjust="spacingAndGlyphs">1.15500</text>
<rect x="965" y="146.4" width="44.1" height="13.2" rx="1" fill="#089981"/>
<text x="972.6" y="156.4" font-size="9.5" fill="#ffffff" stroke="#ffffff" stroke-width="0.22" text-anchor="start" textLength="31.7" lengthAdjust="spacingAndGlyphs">1.16028</text>
<rect x="965" y="236.1" width="43.9" height="13.1" rx="1" fill="#2196f3"/>
<text x="971.6" y="246.1" font-size="9.5" fill="#ffffff" stroke="#ffffff" stroke-width="0.22" text-anchor="start" textLength="32.0" lengthAdjust="spacingAndGlyphs">0.00032</text>
<text x="971.4" y="291.3" font-size="9.5" fill="#2e3139" stroke="#2e3139" stroke-width="0.22" text-anchor="start" textLength="23.0" lengthAdjust="spacingAndGlyphs">80.00</text>
<text x="971.4" y="318.9" font-size="9.5" fill="#2e3139" stroke="#2e3139" stroke-width="0.22" text-anchor="start" textLength="23.0" lengthAdjust="spacingAndGlyphs">60.00</text>
<text x="971.4" y="346.3" font-size="9.5" fill="#2e3139" stroke="#2e3139" stroke-width="0.22" text-anchor="start" textLength="23.0" lengthAdjust="spacingAndGlyphs">40.00</text>
<rect x="965" y="330" width="33.8" height="12.4" rx="1" fill="#7e57c2"/>
<text x="971.4" y="339.7" font-size="9.5" fill="#ffffff" stroke="#ffffff" stroke-width="0.22" text-anchor="start" textLength="23.0" lengthAdjust="spacingAndGlyphs">44.55</text>
<text x="33.6" y="382.1" font-size="9.3" fill="#2e3139" stroke="#2e3139" stroke-width="0.22" text-anchor="middle">12</text>
<text x="96.0" y="382.1" font-size="9.3" fill="#2e3139" stroke="#2e3139" stroke-width="0.22" text-anchor="middle">16</text>
<text x="182.5" y="382.1" font-size="9.3" fill="#2e3139" stroke="#2e3139" stroke-width="0.22" text-anchor="middle">19</text>
<text x="244.9" y="382.1" font-size="9.3" fill="#2e3139" stroke="#2e3139" stroke-width="0.22" text-anchor="middle">23</text>
<text x="331.4" y="382.1" font-size="9.3" fill="#2e3139" stroke="#2e3139" stroke-width="0.22" text-anchor="middle">26</text>
<text x="422.6" y="382.2" font-size="9.5" fill="#1e2129" stroke="#1e2129" stroke-width="0.22" text-anchor="middle" textLength="14.8" lengthAdjust="spacingAndGlyphs" font-weight="bold">Oct</text>
<text x="509.1" y="382.1" font-size="9.3" fill="#2e3139" stroke="#2e3139" stroke-width="0.22" text-anchor="middle">5</text>
<text x="571.5" y="382.1" font-size="9.3" fill="#2e3139" stroke="#2e3139" stroke-width="0.22" text-anchor="middle">8</text>
<text x="658.0" y="382.1" font-size="9.3" fill="#2e3139" stroke="#2e3139" stroke-width="0.22" text-anchor="middle">12</text>
<text x="720.4" y="382.1" font-size="9.3" fill="#2e3139" stroke="#2e3139" stroke-width="0.22" text-anchor="middle">15</text>
<text x="806.9" y="382.1" font-size="9.3" fill="#2e3139" stroke="#2e3139" stroke-width="0.22" text-anchor="middle">19</text>
<text x="869.3" y="382.1" font-size="9.3" fill="#2e3139" stroke="#2e3139" stroke-width="0.22" text-anchor="middle">22</text>
<text x="955.8" y="382.1" font-size="9.3" fill="#2e3139" stroke="#2e3139" stroke-width="0.22" text-anchor="middle">25</text>
<g transform="translate(8,398) scale(0.418,0.40)" fill="#1e222d"><path d="M14 22H7V11H0V4h14v18z"/><circle cx="20" cy="8" r="4"/><path d="M28 22h-8l7.5-18h8L28 22z"/></g>
<text x="25.9" y="406.9" font-size="9.2" fill="#2a2e39" stroke="#2a2e39" stroke-width="0.22" text-anchor="start" textLength="54.2" lengthAdjust="spacingAndGlyphs">TradingView</text>
</svg>
</body></html>
